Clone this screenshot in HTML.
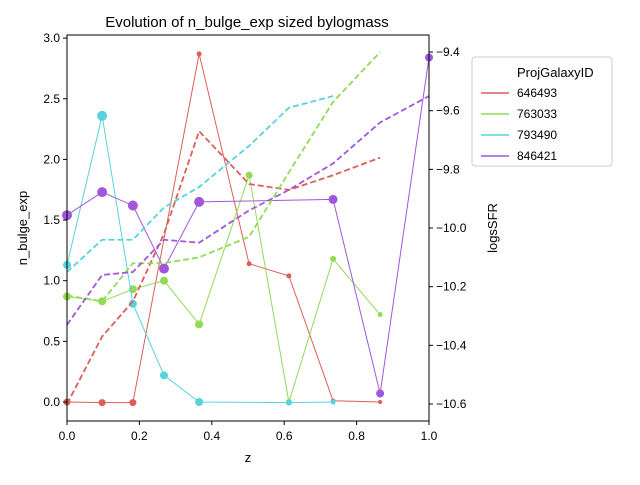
<!DOCTYPE html>
<html><head><meta charset="utf-8"><style>
body{margin:0;background:#fff;}
svg{font-family:"Liberation Sans","DejaVu Sans",sans-serif;}
</style></head><body>
<svg id="chart" width="640" height="480">
<text x="247" y="27" font-size="15" text-anchor="middle">Evolution of n_bulge_exp sized bylogmass</text>
<g id="plot"></g>
<rect x="67" y="35" width="362" height="386" fill="none" stroke="#000" stroke-width="1"/>
<text x="248" y="462" font-size="13" text-anchor="middle">z</text>
<text transform="translate(27,228) rotate(-90)" font-size="13" text-anchor="middle">n_bulge_exp</text>
<text transform="translate(497,228) rotate(-90)" font-size="13" text-anchor="middle">logsSFR</text>
<g>
<rect x="472" y="57" width="140" height="109" rx="3" fill="#fff" stroke="#ccc"/>
<text x="517" y="77" font-size="13">ProjGalaxyID</text>
<g id="legend-entries"></g>
</g>
</svg>
<script>
const zVals = [0, 0.097, 0.182, 0.268, 0.365, 0.503, 0.613, 0.735, 0.865, 1.0];
const ids = ["646493","763033","793490","846421"];
const colors = ["#db5f57","#91db57","#57d3db","#a157db"];
const nRed   = [0.0,-0.005,-0.005,null,2.87,1.14,1.04,0.01,0.0,null];
const nGreen = [0.87,0.83,0.93,1.0,0.64,1.87,0.0,1.18,0.72,null];
const nCyan  = [1.13,2.36,0.81,0.22,0.0,null,-0.005,0.0,null,null];
const nPurple= [1.54,1.73,1.62,1.10,1.65,null,null,1.67,0.07,2.84];
const sRed   = [-10.6,-10.37,-10.25,-10.02,-9.67,-9.85,-9.87,-9.82,-9.76,null];
const sGreen = [-10.23,-10.25,-10.12,-10.12,-10.1,-10.03,-9.81,-9.57,-9.4,null];
const sCyan  = [-10.15,-10.04,-10.04,-9.93,-9.86,-9.72,-9.59,-9.55,null,null];
const sPurple= [-10.33,-10.16,-10.15,-10.04,-10.05,-9.94,-9.87,-9.78,-9.64,-9.55];
const mRed   = [3.5,3.5,3.5,0,2.5,2.5,2.5,2.2,2,0];
const mGreen = [4,4,4,4,4,3.5,3,3,2.5,0];
const mCyan  = [4,5,4,4,4,0,3,2.5,0,0];
const mPurple= [5,5,5,5,5,0,0,4.5,4,4];
const xTicks = [0,0.2,0.4,0.6,0.8,1.0];
const yTicks = [0,0.5,1.0,1.5,2.0,2.5,3.0];
const y2Ticks = [-10.6,-10.4,-10.2,-10.0,-9.8,-9.6,-9.4];

const NS="http://www.w3.org/2000/svg";
const X=v=>67+v*362;
const Y=v=>402-v*121.3;
const Y2=v=>404-(v+10.6)*293.3;
const plot=document.getElementById('plot');
function mk(tag,attrs,parent){const e=document.createElementNS(NS,tag);for(const k in attrs)e.setAttribute(k,attrs[k]);(parent||plot).appendChild(e);return e;}
const svg=document.getElementById('chart');
xTicks.forEach(t=>{mk('line',{x1:X(t),x2:X(t),y1:421,y2:425,stroke:'#000'},svg);
 const tx=mk('text',{x:X(t),y:440,'font-size':12,'text-anchor':'middle'},svg);tx.textContent=t.toFixed(1);
 
 });
yTicks.forEach(t=>{mk('line',{x1:63,x2:67,y1:Y(t),y2:Y(t),stroke:'#000'},svg);
 const tx=mk('text',{x:60,y:Y(t)+4,'font-size':12,'text-anchor':'end'},svg);tx.textContent=t.toFixed(1);
 
 });
y2Ticks.forEach(t=>{mk('line',{x1:429,x2:433,y1:Y2(t),y2:Y2(t),stroke:'#000'},svg);
 const tx=mk('text',{x:436,y:Y2(t)+4,'font-size':12},svg);tx.textContent=t.toFixed(1).replace('-','\u2212');
 
 });
const nS=[nRed,nGreen,nCyan,nPurple],sS=[sRed,sGreen,sCyan,sPurple],mS=[mRed,mGreen,mCyan,mPurple];
function pathOf(arr,f){let d='';arr.forEach((v,i)=>{if(v!==null)d+=(d?'L':'M')+X(zVals[i])+','+f(v);});return d;}
ids.forEach((id,k)=>{
 const c=colors[k];
 const p=mk('path',{d:pathOf(nS[k],Y),fill:'none',stroke:c,'stroke-width':1});
 
 
 nS[k].forEach((v,i)=>{if(v===null)return;
  const cc=mk('circle',{cx:X(zVals[i]),cy:Y(v),r:mS[k][i]||2.5,fill:c});
  
  });
});
ids.forEach((id,k)=>{
 const p=mk('path',{d:pathOf(sS[k],Y2),fill:'none',stroke:colors[k],'stroke-width':1.8,'stroke-dasharray':'6,3'});
 
 
});
const lg=document.getElementById('legend-entries');
ids.forEach((id,k)=>{const y=97+k*21;
 const l=mk('line',{x1:481,x2:509,y1:y-4,y2:y-4,stroke:colors[k],'stroke-width':1.5},lg);
 
 
 const t=mk('text',{x:517,y:y,'font-size':12},lg);t.textContent=id;
 
 });
</script>
</body></html>
